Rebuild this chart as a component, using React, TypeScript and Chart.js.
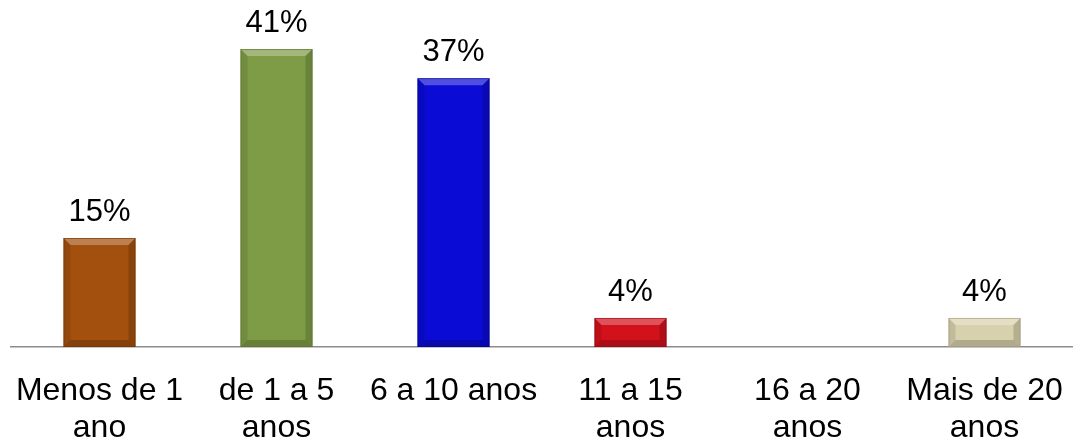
import React, { useEffect, useRef } from "react";
import { Chart, registerables } from "chart.js";

Chart.register(...registerables);

// Tempo de experiência (share of respondents, %)
const categories: string[][] = [
  ["Menos de 1", "ano"],
  ["de 1 a 5", "anos"],
  ["6 a 10 anos"],
  ["11 a 15", "anos"],
  ["16 a 20", "anos"],
  ["Mais de 20", "anos"],
];
const values: number[] = [15, 41, 37, 4, 0, 4];
const barColors: string[] = ["#A3500F", "#7E9C46", "#0B0BD6", "#D2111B", "#7F7F7F", "#D8D1AD"];
const barEdges: string[] = ["#6E3508", "#56702C", "#06067F", "#8E0A10", "#555555", "#9C9573"];

const FONT = "'Liberation Sans', Arial, sans-serif";

// Bevelled look on each bar: light top face, darker bottom and sides
const bevelPlugin = {
  id: "bevel",
  afterDatasetsDraw(chart: any) {
    const ctx = chart.ctx;
    const meta = chart.getDatasetMeta(0);
    meta.data.forEach((bar: any, i: number) => {
      if (!values[i]) return;
      const { x, y, base, width } = bar.getProps(["x", "y", "base", "width"], true);
      const l = x - width / 2;
      const r = x + width / 2;
      const t = y;
      const b = base;
      const bv = Math.min(7, (b - t) / 2);
      const poly = (pts: number[][], fill: string) => {
        ctx.beginPath();
        ctx.moveTo(pts[0][0], pts[0][1]);
        for (let k = 1; k < pts.length; k++) ctx.lineTo(pts[k][0], pts[k][1]);
        ctx.closePath();
        ctx.fillStyle = fill;
        ctx.fill();
      };
      ctx.save();
      poly([[l, t], [r, t], [r - bv, t + bv], [l + bv, t + bv]], "rgba(255,255,255,0.28)");
      poly([[l, b], [r, b], [r - bv, b - bv], [l + bv, b - bv]], "rgba(0,0,0,0.18)");
      poly([[l, t], [l + bv, t + bv], [l + bv, b - bv], [l, b]], "rgba(0,0,0,0.10)");
      poly([[r, t], [r - bv, t + bv], [r - bv, b - bv], [r, b]], "rgba(0,0,0,0.16)");
      ctx.strokeStyle = barEdges[i];
      ctx.globalAlpha = 0.6;
      ctx.lineWidth = 1;
      ctx.strokeRect(l + 0.5, t + 0.5, width - 1, b - t - 1);
      ctx.restore();
    });
  },
};

// Percentage labels above the bars
const valueLabelPlugin = {
  id: "valueLabels",
  afterDatasetsDraw(chart: any) {
    const ctx = chart.ctx;
    const meta = chart.getDatasetMeta(0);
    ctx.save();
    ctx.font = `31px ${FONT}`;
    ctx.fillStyle = "#000000";
    ctx.textAlign = "center";
    ctx.textBaseline = "alphabetic";
    meta.data.forEach((bar: any, i: number) => {
      if (!values[i]) return;
      const { x, y } = bar.getProps(["x", "y"], true);
      ctx.fillText(`${values[i]}%`, x, y - 17);
    });
    ctx.restore();
  },
};

export default function App() {
  const canvasRef = useRef<HTMLCanvasElement | null>(null);

  useEffect(() => {
    if (!canvasRef.current) return;
    const chart = new Chart(canvasRef.current, {
      type: "bar",
      data: {
        labels: categories,
        datasets: [
          {
            data: values,
            backgroundColor: barColors,
            borderWidth: 0,
            barPercentage: 0.407,
            categoryPercentage: 1,
          },
        ],
      },
      options: {
        animation: false,
        responsive: true,
        maintainAspectRatio: false,
        layout: { padding: { top: 20, left: 11, right: 0, bottom: 0 } },
        plugins: {
          legend: { display: false },
          tooltip: { enabled: false },
        },
        scales: {
          y: {
            display: false,
            min: 0,
            max: 45,
          },
          x: {
            grid: { display: false, drawTicks: false },
            border: { display: true, color: "#8C8C8C", width: 1.5 },
            ticks: {
              color: "#000000",
              padding: 26,
              maxRotation: 0,
              autoSkip: false,
              font: { family: FONT, size: 32, lineHeight: 1.15 },
            },
            afterFit(scale: any) {
              scale.height = 92;
              scale.paddingLeft = 0;
              scale.paddingRight = 0;
            },
          },
        },
      },
      plugins: [bevelPlugin, valueLabelPlugin],
    });
    return () => chart.destroy();
  }, []);

  return (
    <div style={{ position: "absolute", left: 0, top: 0, width: 1073, height: 439, background: "#ffffff" }}>
      <canvas ref={canvasRef} />
    </div>
  );
}
